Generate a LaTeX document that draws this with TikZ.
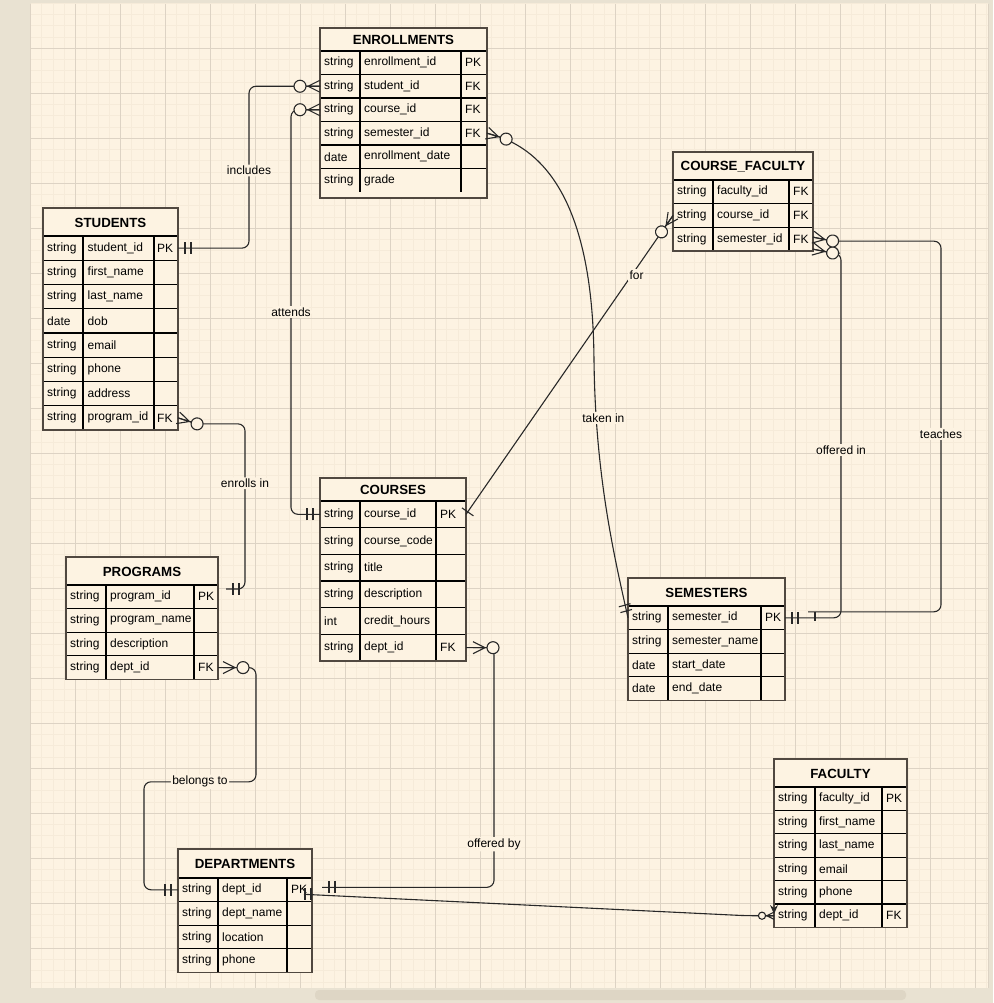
\documentclass[tikz,border=0pt]{standalone}
\usepackage{fontspec}
\setmainfont{Liberation Sans}
\usetikzlibrary{calc}
\definecolor{paper}{RGB}{253,243,226}
\definecolor{strip}{RGB}{233,226,210}
\definecolor{minorg}{RGB}{246,235,217}
\definecolor{majorg}{RGB}{221,211,196}
\definecolor{tblline}{RGB}{80,72,64}
\definecolor{edge}{RGB}{40,40,40}
\definecolor{thumb}{RGB}{222,214,197}
\def\zeromany(#1)(#2){\begin{scope}[shift={(#1)},rotate=#2]
	\draw[rel] (0,-6) -- (12,0) -- (0,6) (0,0) -- (14,0);
	\draw[rel,fill=paper] (20,0) circle (6pt);
\end{scope}}
\def\mandone(#1)(#2){\begin{scope}[shift={(#1)},rotate=#2]
	\draw[rel] (7,-6) -- (7,6) (13,-6) -- (13,6);
\end{scope}}

\begin{document}
\begin{tikzpicture}[x=1pt,y=-1pt,
	tbl/.style={draw=tblline,line width=1.7pt},
	cellrow/.style={fill=paper,inner sep=0pt,outer sep=0pt,anchor=north west},
	colline/.style={draw=black,line width=1.1pt},
	ttl/.style={font=\bfseries\fontsize{13.3}{15}\selectfont,inner sep=0pt},
	txt/.style={font=\fontsize{12}{14}\selectfont,anchor=west,inner sep=0pt},
	rel/.style={draw=edge,line width=1.1pt},
	relpath/.style={rel,rounded corners=7pt},
	lbl/.style={fill=paper,font=\fontsize{12}{14}\selectfont,inner sep=1.5pt}]
			%%%%% CANVAS %%%%%
			\useasboundingbox (0,0) rectangle (993,1003);
			\fill[strip] (0,0) rectangle (993,1003);
			\fill[paper] (30.7,4.3) rectangle (988,988);
			\foreach \g in {0,...,85} \draw[minorg,line width=1pt] ({30.7+11.25*\g},4.3) -- ({30.7+11.25*\g},988);
			\foreach \g in {0,...,87} \draw[minorg,line width=1pt] (30.7,{3.3+11.25*\g}) -- (988,{3.3+11.25*\g});
			\foreach \g in {1,...,21} \draw[majorg,line width=1pt] ({30.7+45*\g},4.3) -- ({30.7+45*\g},988);
			\foreach \g in {1,...,21} \draw[majorg,line width=1pt] (30.7,{3.3+45*\g}) -- (988,{3.3+45*\g});
			\draw[majorg,line width=1pt] (30.4,4.3) -- (30.4,988) (988.4,4.3) -- (988.4,988);
			\fill[thumb,rounded corners=4pt] (315,990) rectangle (906,1000);
			
			%%%%% ENROLLMENTS %%%%%
			\fill[paper] (320,28) rectangle (487,198);
			\foreach \ty/\nm/\ky [count=\i] in {string/enrollment\_id/PK, string/student\_id/FK, string/course\_id/FK, string/semester\_id/FK, date/enrollment\_date/, string/grade/}{
				\node[cellrow,minimum width=167pt,minimum height=23.5pt] (enr\i) at (320,{51+23.5*(\i-1)}) {};
				\draw[colline] (enr\i.north west) -- (enr\i.north east);
				\node[txt] (enr\i-a) at ([xshift=4]enr\i.west) {\ty};
				\node[txt] (enr\i-b) at ([xshift=44]enr\i.west) {\nm};
				\node[txt] (enr\i-c) at ([xshift=145]enr\i.west) {\ky};
			}
			\draw[colline] (360,51) -- (360,192) (461,51) -- (461,192);
			\node[ttl] (enr) at (403.5,40) {ENROLLMENTS};
			\draw[tbl] (320,28) rectangle (487,198);
			
			%%%%% STUDENTS %%%%%
			\fill[paper] (43,208) rectangle (178,430);
			\foreach \ty/\nm/\ky [count=\i] in {string/student\_id/PK, string/first\_name/, string/last\_name/, date/dob/, string/email/, string/phone/, string/address/, string/program\_id/FK}{
				\node[cellrow,minimum width=135pt,minimum height=24.25pt] (stu\i) at (43,{236+24.25*(\i-1)}) {};
				\draw[colline] (stu\i.north west) -- (stu\i.north east);
				\node[txt] (stu\i-a) at ([xshift=4]stu\i.west) {\ty};
				\node[txt] (stu\i-b) at ([xshift=44.5]stu\i.west) {\nm};
				\node[txt] (stu\i-c) at ([xshift=114]stu\i.west) {\ky};
			}
			\draw[colline] (83,236) -- (83,430) (154,236) -- (154,430);
			\node[ttl] (stu) at (110.5,222.5) {STUDENTS};
			\draw[tbl] (43,208) rectangle (178,430);
			
			%%%%% COURSE_FACULTY %%%%%
			\fill[paper] (673,152) rectangle (813,251);
			\foreach \ty/\nm/\ky [count=\i] in {string/faculty\_id/FK, string/course\_id/FK, string/semester\_id/FK}{
				\node[cellrow,minimum width=140pt,minimum height=23.67pt] (cf\i) at (673,{180+23.67*(\i-1)}) {};
				\draw[colline] (cf\i.north west) -- (cf\i.north east);
				\node[txt] (cf\i-a) at ([xshift=4]cf\i.west) {\ty};
				\node[txt] (cf\i-b) at ([xshift=44]cf\i.west) {\nm};
				\node[txt] (cf\i-c) at ([xshift=120]cf\i.west) {\ky};
			}
			\draw[colline] (713,180) -- (713,251) (789,180) -- (789,251);
			\node[ttl] (cf) at (743,166.5) {COURSE\_FACULTY};
			\draw[tbl] (673,152) rectangle (813,251);
			
			%%%%% COURSES %%%%%
			\fill[paper] (320,478) rectangle (466,661);
			\foreach \ty/\nm/\ky [count=\i] in {string/course\_id/PK, string/course\_code/, string/title/, string/description/, int/credit\_hours/, string/dept\_id/FK}{
				\node[cellrow,minimum width=146pt,minimum height=26.67pt] (crs\i) at (320,{501+26.67*(\i-1)}) {};
				\draw[colline] (crs\i.north west) -- (crs\i.north east);
				\node[txt] (crs\i-a) at ([xshift=4]crs\i.west) {\ty};
				\node[txt] (crs\i-b) at ([xshift=44]crs\i.west) {\nm};
				\node[txt] (crs\i-c) at ([xshift=120]crs\i.west) {\ky};
			}
			\draw[colline] (360,501) -- (360,661) (436,501) -- (436,661);
			\node[ttl] (crs) at (393,490) {COURSES};
			\draw[tbl] (320,478) rectangle (466,661);
			
			%%%%% PROGRAMS %%%%%
			\fill[paper] (66,557) rectangle (218,679.4);
			\foreach \ty/\nm/\ky [count=\i] in {string/program\_id/PK, string/program\_name/, string/description/, string/dept\_id/FK}{
				\node[cellrow,minimum width=152pt,minimum height=23.6pt] (prg\i) at (66,{585+23.6*(\i-1)}) {};
				\draw[colline] (prg\i.north west) -- (prg\i.north east);
				\node[txt] (prg\i-a) at ([xshift=4]prg\i.west) {\ty};
				\node[txt] (prg\i-b) at ([xshift=44]prg\i.west) {\nm};
				\node[txt] (prg\i-c) at ([xshift=132]prg\i.west) {\ky};
			}
			\draw[colline] (106,585) -- (106,679.4) (194,585) -- (194,679.4);
			\node[ttl] (prg) at (142,571.5) {PROGRAMS};
			\draw[tbl] (66,557) rectangle (218,679.4);
			
			%%%%% SEMESTERS %%%%%
			\fill[paper] (628,578) rectangle (785,700.4);
			\foreach \ty/\nm/\ky [count=\i] in {string/semester\_id/PK, string/semester\_name/, date/start\_date/, date/end\_date/}{
				\node[cellrow,minimum width=157pt,minimum height=23.6pt] (sem\i) at (628,{606+23.6*(\i-1)}) {};
				\draw[colline] (sem\i.north west) -- (sem\i.north east);
				\node[txt] (sem\i-a) at ([xshift=4]sem\i.west) {\ty};
				\node[txt] (sem\i-b) at ([xshift=44]sem\i.west) {\nm};
				\node[txt] (sem\i-c) at ([xshift=137]sem\i.west) {\ky};
			}
			\draw[colline] (668,606) -- (668,700.4) (761,606) -- (761,700.4);
			\node[ttl] (sem) at (706.5,592.5) {SEMESTERS};
			\draw[tbl] (628,578) rectangle (785,700.4);
			
			%%%%% DEPARTMENTS %%%%%
			\fill[paper] (178,849) rectangle (312,972.4);
			\foreach \ty/\nm/\ky [count=\i] in {string/dept\_id/PK, string/dept\_name/, string/location/, string/phone/}{
				\node[cellrow,minimum width=134pt,minimum height=23.6pt] (dep\i) at (178,{878+23.6*(\i-1)}) {};
				\draw[colline] (dep\i.north west) -- (dep\i.north east);
				\node[txt] (dep\i-a) at ([xshift=4]dep\i.west) {\ty};
				\node[txt] (dep\i-b) at ([xshift=44]dep\i.west) {\nm};
				\node[txt] (dep\i-c) at ([xshift=113]dep\i.west) {\ky};
			}
			\draw[colline] (218,878) -- (218,972.4) (287,878) -- (287,972.4);
			\node[ttl] (dep) at (245,864) {DEPARTMENTS};
			\draw[tbl] (178,849) rectangle (312,972.4);
			
			%%%%% FACULTY %%%%%
			\fill[paper] (774,759) rectangle (907,927.4);
			\foreach \ty/\nm/\ky [count=\i] in {string/faculty\_id/PK, string/first\_name/, string/last\_name/, string/email/, string/phone/, string/dept\_id/FK}{
				\node[cellrow,minimum width=133pt,minimum height=23.4pt] (fac\i) at (774,{787+23.4*(\i-1)}) {};
				\draw[colline] (fac\i.north west) -- (fac\i.north east);
				\node[txt] (fac\i-a) at ([xshift=4]fac\i.west) {\ty};
				\node[txt] (fac\i-b) at ([xshift=45]fac\i.west) {\nm};
				\node[txt] (fac\i-c) at ([xshift=112]fac\i.west) {\ky};
			}
			\draw[colline] (815,787) -- (815,927.4) (882,787) -- (882,927.4);
			\node[ttl] (fac) at (840.5,773.5) {FACULTY};
			\draw[tbl] (774,759) rectangle (907,927.4);
			
			%%%%% RELATIONS %%%%%
			\coordinate (stc) at ([shift={(19,6)}]stu8.east);
			\coordinate (prgc) at ([shift={(8,4)}]prg1.north east);
			\coordinate (dbo) at ([shift={(10,-2.5)}]dep1.east);
			\coordinate (dfs) at ([shift={(-8,4.5)}]dep1.east);
			\coordinate (cfo) at ([shift={(0,10)}]cf3.east);
			\coordinate (cft) at ([shift={(0,-2)}]cf3.east);
			\coordinate (semt) at ([shift={(23,-6)}]sem1.east);
			
			\draw[relpath] (stu1.east) -- ([xshift=71]stu1.east) |- (enr2.west) node[lbl,pos=0.24] (l-inc) {includes};
			\mandone(stu1.east)(0)
			\zeromany(enr2.west)(180)
			
			\draw[relpath] (crs1.west) -- ([xshift=-29]crs1.west) |- (enr3.west) node[lbl,pos=0.25] (l-att) {attends};
			\mandone(crs1.west)(180)
			\zeromany(enr3.west)(180)
			
			\draw[relpath] (enr4.east) .. controls ([shift={(73,17)}]enr4.east) and ([shift={(105,97)}]enr4.east) .. ([shift={(107,227)}]enr4.east) .. controls ([shift={(-32,-138)}]sem1.west) and ([shift={(-13,-58)}]sem1.west) .. (sem1.west) node[lbl,pos=0.17,xshift=7] (l-tak) {taken in};
			\zeromany(enr4.east)(-17)
			\mandone(sem1.west)(105)
			
			\draw[rel] (crs1.east) -- (cf2.west) node[lbl,pos=0.8,xshift=5] (l-for) {for};
			\begin{scope}[shift={(crs1.east)},rotate=55]
				\draw[rel] (3,-7) -- (3,7);
			\end{scope}
			\zeromany(cf2.west)(235)
			
			\draw[relpath] (cfo) -- ([shift={(20,4)}]cfo) -- ([shift={(28,4)}]cfo) |- (sem1.east) node[lbl,pos=0.27] (l-oin) {offered in};
			\zeromany(cfo)(-11)
			\mandone(sem1.east)(0)
			
			\draw[relpath] (cft) -- ([shift={(20,4)}]cft) -- ([shift={(128,4)}]cft) |- (semt) node[lbl,pos=0.26] (l-tea) {teaches};
			\draw[rel] ([shift={(30,-6)}]sem1.east) -- ([shift={(30,3)}]sem1.east);
			\zeromany(cft)(-11)
			
			\draw[relpath] (stu8.east) -- (stc) -- ([xshift=48]stc) |- (prgc) node[lbl,pos=0.18] (l-enr) {enrolls in};
			\zeromany(stu8.east)(-17.5)
			\mandone(prgc)(0)
			
			\draw[relpath] (prg4.east) -- ([xshift=38]prg4.east) |- ([shift={(-34,-108)}]dep1.west) node[lbl,pos=0.75] (l-bel) {belongs to} |- (dep1.west);
			\zeromany([xshift=5]prg4.east)(0)
			\mandone(dep1.west)(180)
			
			\draw[relpath] (crs6.east) -- ([xshift=28]crs6.east) |- (dbo) node[lbl,pos=0.41] (l-oby) {offered by};
			\zeromany([xshift=7]crs6.east)(0)
			\mandone(dbo)(0)
			
			\draw[relpath] (dfs) -- ([xshift=-28]fac6.west) -- (fac6.west);
			\mandone([xshift=-6]dfs)(0)
			\zeromany(fac6.west)(180,scale=0.6)
			\fill[edge] ([shift={(-4,1)}]fac6.north west) -- ([shift={(0,10)}]fac6.north west) -- ([shift={(4,1)}]fac6.north west) -- ([shift={(0,4)}]fac6.north west) -- cycle;
			
			%%%%% END %%%%%
\end{tikzpicture}
\end{document}
